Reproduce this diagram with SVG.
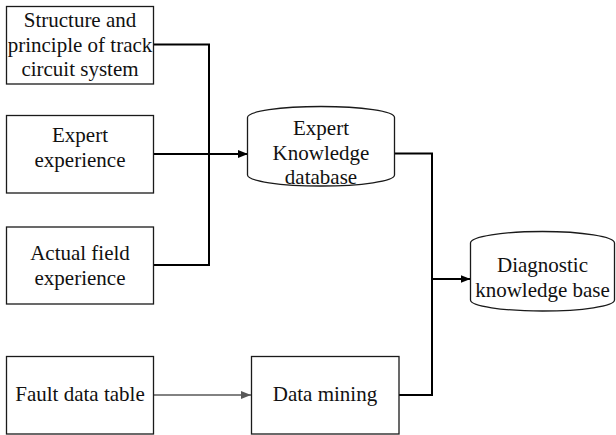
<svg xmlns="http://www.w3.org/2000/svg" width="616" height="435" viewBox="0 0 616 435">
<defs>
<marker id="ah" markerWidth="10" markerHeight="8" refX="10" refY="4" orient="auto" markerUnits="userSpaceOnUse">
<path d="M0,0 L10,4 L0,8 Z" fill="#000"/>
</marker>
<marker id="ahg" markerWidth="10" markerHeight="8" refX="10" refY="4" orient="auto" markerUnits="userSpaceOnUse">
<path d="M0,0 L10,4 L0,8 Z" fill="#595959"/>
</marker>
</defs>
<style>
.box{fill:#fff;stroke:#1a1a1a;stroke-width:1.3}
.t{font-family:'Liberation Serif','Times New Roman','DejaVu Serif','Noto Serif',serif;font-size:21px;fill:#111;text-anchor:middle}
.c{fill:none;stroke:#000;stroke-width:2}
.g{fill:none;stroke:#595959;stroke-width:1.6}
</style>
<rect width="616" height="435" fill="#fff"/>
<g id="connectors">
<polyline class="c" points="153,44.5 209,44.5 209,265 153,265"/>
<line class="c" x1="153" y1="154" x2="248" y2="154" marker-end="url(#ah)"/>
<polyline class="c" points="395,153.5 432,153.5 432,395 399,395"/>
<line class="c" x1="432" y1="279" x2="470.5" y2="279" marker-end="url(#ah)"/>
<line class="g" x1="153" y1="395" x2="251" y2="395" marker-end="url(#ahg)"/>
</g>
<g id="structure">
<rect class="box" x="6.5" y="6.5" width="147" height="77.5"/>
<text class="t" x="80" y="27">Structure and</text>
<text class="t" x="80" y="51.5">principle of track</text>
<text class="t" x="80" y="76">circuit system</text>
</g>
<g id="expert">
<rect class="box" x="6.5" y="115.5" width="147" height="77.5"/>
<text class="t" x="80" y="142">Expert</text>
<text class="t" x="80" y="167">experience</text>
</g>
<g id="actual">
<rect class="box" x="6.5" y="227" width="147" height="77"/>
<text class="t" x="80" y="260">Actual field</text>
<text class="t" x="80" y="284.5">experience</text>
</g>
<g id="fault">
<rect class="box" x="6.5" y="356.5" width="147" height="77.5"/>
<text class="t" x="80" y="401">Fault data table</text>
</g>
<g id="mining">
<rect class="box" x="251.5" y="356.5" width="147.5" height="77.5"/>
<text class="t" x="325" y="401">Data mining</text>
</g>
<g id="ekdb">
<path class="box" d="M247.5,117.5 A73.5,11 0 0 1 394.5,117.5 L394.5,175 A73.5,11 0 0 1 247.5,175 Z"/>
<text class="t" x="321" y="135">Expert</text>
<text class="t" x="321" y="159.5">Knowledge</text>
<text class="t" x="321" y="184">database</text>
</g>
<g id="diag">
<path class="box" d="M470.5,243 A72,11.5 0 0 1 614.5,243 L614.5,300 A72,11 0 0 1 470.5,300 Z"/>
<text class="t" x="542.5" y="272">Diagnostic</text>
<text class="t" x="542.5" y="297">knowledge base</text>
</g>
</svg>
